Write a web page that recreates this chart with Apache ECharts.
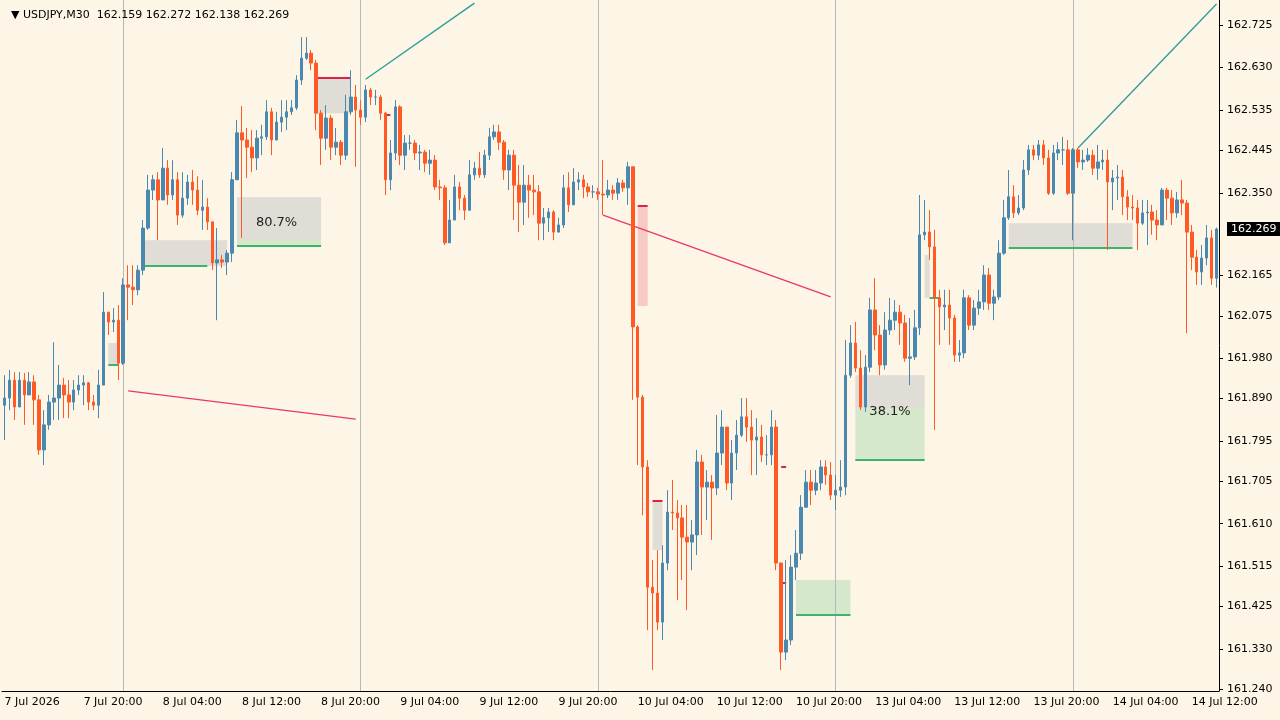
<!DOCTYPE html>
<html>
<head>
<meta charset="utf-8">
<script src="https://cdn.jsdelivr.net/npm/echarts@6/dist/echarts.min.js"></script>
<style>
    html, body {margin:0;padding:0;background:#fdf5e6;}
    #chart {width:1280px;height:720px;}
</style>
</head>
<body>
<div id="chart"></div>
<script>
    // USDJPY M30, 7 Jul 2026 12:00 .. 14 Jul 2026 14:30 (246 bars)
    var firstOpen = 161.875;
    var closes = [
        161.891,161.931,161.871,161.931,161.898,161.927,161.887,161.775,161.831,161.882,
        161.891,161.920,161.898,161.882,161.909,161.920,161.925,161.882,161.875,161.920,
        162.083,162.061,162.065,161.969,162.144,162.139,162.133,162.177,162.271,162.356,
        162.379,162.334,162.405,162.345,162.379,162.300,162.338,162.374,162.356,162.311,
        162.318,162.285,162.193,162.200,162.195,162.215,162.379,162.484,162.468,162.452,
        162.428,162.472,162.475,162.531,162.468,162.508,162.519,162.531,162.540,162.602,
        162.651,162.662,162.640,162.528,162.472,162.517,162.452,162.463,162.434,162.531,
        162.564,162.535,162.519,162.580,162.564,162.564,162.528,162.379,162.439,162.542,
        162.434,162.461,162.461,162.439,162.441,162.416,162.423,162.363,162.361,162.238,
        162.289,162.363,162.338,162.311,162.390,162.405,162.390,162.434,162.475,162.486,
        162.463,162.401,162.434,162.367,162.329,162.367,162.356,162.352,162.282,162.294,
        162.307,162.262,162.278,162.361,162.323,162.374,162.379,162.363,162.352,162.352,
        162.347,162.345,162.356,162.349,162.372,162.361,162.408,162.050,161.893,161.737,
        161.468,161.455,161.390,161.522,161.636,161.634,161.623,161.580,161.569,161.585,
        161.748,161.692,161.703,161.690,161.768,161.826,161.701,161.768,161.808,161.849,
        161.826,161.797,161.804,161.764,161.764,161.826,161.522,161.323,161.350,161.513,
        161.544,161.647,161.703,161.685,161.701,161.737,161.719,161.674,161.685,161.692,
        161.942,162.014,161.958,161.871,161.960,162.088,162.032,161.965,162.043,162.065,
        162.083,162.059,161.980,161.983,162.048,162.256,162.262,162.229,162.115,162.095,
        162.099,162.070,161.987,161.992,162.115,162.054,162.092,162.106,162.166,162.103,
        162.117,162.215,162.294,162.341,162.305,162.316,162.401,162.446,162.434,162.457,
        162.428,162.349,162.439,162.446,162.446,162.349,162.446,162.419,162.423,162.434,
        162.405,162.419,162.423,162.374,162.383,162.385,162.341,162.318,162.316,162.282,
        162.305,162.307,162.289,162.278,162.356,162.338,162.305,162.334,162.327,162.262,
        162.206,162.173,162.204,162.249,162.159,162.269
    ];
    var highs = [
        161.942,161.954,161.949,161.949,161.947,161.949,161.942,161.898,161.864,161.898,
        162.016,161.965,161.936,161.931,161.931,161.942,161.942,161.927,161.898,161.954,
        162.128,162.083,162.092,162.099,162.159,162.188,162.188,162.188,162.289,162.390,
        162.390,162.396,162.450,162.423,162.423,162.396,162.396,162.390,162.401,162.387,
        162.379,162.338,162.285,162.271,162.211,162.222,162.396,162.513,162.544,162.495,
        162.490,162.490,162.502,162.557,162.540,162.531,162.557,162.557,162.557,162.613,
        162.698,162.698,162.669,162.647,162.535,162.546,162.524,162.495,162.468,162.569,
        162.624,162.591,162.557,162.591,162.584,162.580,162.569,162.531,162.468,162.557,
        162.546,162.479,162.479,162.468,162.457,162.446,162.446,162.434,162.379,162.367,
        162.334,162.390,162.374,162.345,162.423,162.419,162.441,162.446,162.495,162.502,
        162.502,162.468,162.446,162.446,162.412,162.412,162.390,162.390,162.367,162.316,
        162.316,162.311,162.294,162.390,162.396,162.405,162.396,162.390,162.372,162.367,
        162.361,162.423,162.379,162.367,162.383,162.379,162.419,162.408,162.054,161.898,
        161.752,161.529,161.551,161.562,161.685,161.708,161.663,161.652,161.652,161.618,
        161.775,161.764,161.730,161.719,161.853,161.864,161.826,161.797,161.842,161.891,
        161.891,161.864,161.846,161.831,161.808,161.864,161.842,161.524,161.529,161.540,
        161.596,161.674,161.730,161.730,161.730,161.752,161.752,161.748,161.719,161.752,
        162.021,162.054,162.061,161.998,161.987,162.115,162.159,162.054,162.083,162.115,
        162.110,162.099,162.077,162.070,162.088,162.345,162.334,162.311,162.267,162.133,
        162.133,162.133,162.077,162.021,162.133,162.121,162.110,162.133,162.188,162.182,
        162.133,162.244,162.334,162.401,162.367,162.345,162.423,162.457,162.457,162.468,
        162.468,162.446,162.457,162.463,162.475,162.468,162.450,162.450,162.446,162.450,
        162.446,162.457,162.446,162.446,162.401,162.412,162.401,162.356,162.345,162.334,
        162.334,162.334,162.323,162.311,162.361,162.361,162.356,162.352,162.379,162.334,
        162.278,162.222,162.233,162.278,162.267,162.272
    ];
    var lows = [
        161.797,161.864,161.842,161.875,161.831,161.904,161.831,161.764,161.741,161.820,
        161.842,161.842,161.846,161.846,161.864,161.898,161.875,161.864,161.864,161.846,
        161.920,162.032,162.039,161.931,161.965,162.065,162.099,162.121,162.166,162.267,
        162.334,162.244,162.338,162.323,162.334,162.278,162.294,162.323,162.323,162.300,
        162.267,162.267,162.177,162.065,162.182,162.166,162.195,162.379,162.249,162.383,
        162.396,162.401,162.434,162.468,162.434,162.479,162.486,162.490,162.524,162.535,
        162.591,162.647,162.624,162.490,162.412,162.446,162.423,162.434,162.412,162.423,
        162.524,162.408,162.502,162.508,162.546,162.546,162.513,162.345,162.356,162.423,
        162.412,162.401,162.446,162.423,162.401,162.396,162.390,162.356,162.334,162.233,
        162.238,162.300,162.311,162.289,162.311,162.379,162.383,162.383,162.423,162.468,
        162.446,162.379,162.356,162.289,162.262,162.278,162.294,162.300,162.244,162.244,
        162.262,162.244,162.267,162.271,162.307,162.323,162.356,162.338,162.341,162.338,
        162.334,162.300,162.338,162.334,162.334,162.352,162.323,161.887,161.741,161.629,
        161.372,161.283,161.372,161.350,161.506,161.596,161.439,161.484,161.417,161.506,
        161.540,161.585,161.618,161.574,161.674,161.741,161.685,161.663,161.730,161.804,
        161.793,161.719,161.719,161.748,161.741,161.741,161.506,161.283,161.305,161.339,
        161.484,161.529,161.645,161.652,161.674,161.685,161.697,161.663,161.641,161.670,
        161.674,161.936,161.949,161.864,161.860,161.949,161.998,161.942,161.954,162.032,
        162.043,162.010,161.972,161.920,161.976,162.032,162.244,162.200,161.820,162.010,
        162.043,162.010,161.972,161.972,161.980,162.043,162.043,162.077,162.088,162.088,
        162.065,162.110,162.211,162.289,162.294,162.300,162.311,162.390,162.423,162.423,
        162.412,162.345,162.345,162.423,162.412,162.345,162.244,162.405,162.401,162.419,
        162.390,162.379,162.401,162.222,162.311,162.334,162.300,162.289,162.289,162.222,
        162.278,162.233,162.256,162.244,162.278,162.289,162.278,162.294,162.300,162.036,
        162.177,162.144,162.144,162.188,162.144,162.138
    ];
    var priceTicks = [162.725,162.630,162.535,162.445,162.350,162.165,162.075,161.980,
        161.890,161.795,161.705,161.610,161.515,161.425,161.330,161.240];
    var daySeparators = [24, 72, 120, 168, 216];
    var lastPrice = 162.269;

    // bar times: Tue 7 Jul 12:00 .. Fri 10 Jul 23:30, Mon 13 Jul 00:00 ..
    var months = ['Jan','Feb','Mar','Apr','May','Jun','Jul','Aug','Sep','Oct','Nov','Dec'];
    var cats = [];
    var t = Date.UTC(2026, 6, 7, 12, 0);
    for (var i = 0; i < closes.length; i++) {
        var d = new Date(t);
        var hh = ('0' + d.getUTCHours()).slice(-2) + ':' + ('0' + d.getUTCMinutes()).slice(-2);
        cats.push(i === 0 ? d.getUTCDate() + ' ' + months[d.getUTCMonth()] + ' 2026'
            : d.getUTCDate() + ' ' + months[d.getUTCMonth()] + ' ' + hh);
        t += 30 * 60000;
        if (new Date(t).getUTCDay() === 6) t += 2 * 24 * 3600000;
    }

    var ohlc = [];
    for (var i = 0; i < closes.length; i++) {
        var o = i === 0 ? firstOpen : closes[i - 1];
        ohlc.push([o, closes[i], lows[i], highs[i]]);
    }

    var GRAY = 'rgba(200,200,200,0.55)', LGREEN = 'rgba(180,220,180,0.55)', PINK = 'rgba(240,150,160,0.45)';
    var boxes = [
        [21, 23, 162.014, 161.965, GRAY],
        [28, 45, 162.244, 162.186, GRAY],
        [47, 64, 162.340, 162.244, GRAY],
        [47, 64, 162.244, 162.231, LGREEN],
        [63, 70, 162.607, 162.528, GRAY],
        [128, 130, 162.320, 162.097, PINK],
        [131, 133, 161.661, 161.551, GRAY],
        [160, 171, 161.484, 161.406, LGREEN],
        [172, 186, 161.942, 161.868, GRAY],
        [172, 186, 161.868, 161.752, LGREEN],
        [186, 187, 162.211, 162.115, GRAY],
        [203, 228, 162.282, 162.226, GRAY]
    ];
    var levels = [
        [21, 23, 161.965, '#3cb46e'],
        [28, 41, 162.186, '#3cb46e'],
        [47, 64, 162.231, '#3cb46e'],
        [63, 70, 162.607, '#e0204a'],
        [77, 78, 162.524, '#e0204a'],
        [128, 130, 162.320, '#e0204a'],
        [131, 133, 161.661, '#e0204a'],
        [157, 158, 161.737, '#e0204a'],
        [157, 158, 161.477, '#e0204a'],
        [160, 171, 161.406, '#3cb46e'],
        [172, 186, 161.752, '#3cb46e'],
        [187, 189, 162.115, '#3cb46e'],
        [203, 228, 162.226, '#3cb46e']
    ];
    var trendLines = [
        [73, 162.604, 95, 162.774, '#2a9d9a'],
        [217, 162.450, 245, 162.772, '#2a9d9a'],
        [25, 161.907, 71, 161.844, '#e8386a'],
        [121, 162.300, 167, 162.117, '#e8386a'],
        [170, 161.484, 192, 161.234, '#e8386a']
    ];
    var percentLabels = [[55, 162.283, '80.7%'], [179, 161.860, '38.1%']];

    var markLineData = [];
    daySeparators.forEach(function (x) {
        markLineData.push({xAxis: x, lineStyle: {color: '#b8b8b8', width: 1, type: 'solid'}, label: {show: false}});
    });
    levels.forEach(function (l) {
        markLineData.push([{coord: [l[0], l[2]], lineStyle: {color: l[3], width: 2, type: 'solid'}, label: {show: false}},
            {coord: [l[1], l[2]]}]);
    });
    trendLines.forEach(function (l) {
        markLineData.push([{coord: [l[0], l[1]], lineStyle: {color: l[4], width: 1.3, type: 'solid'}, label: {show: false}},
            {coord: [l[2], l[3]]}]);
    });

    var axisValues = priceTicks.concat([lastPrice]);

    var chart = echarts.init(document.getElementById('chart'));
    chart.setOption({
        backgroundColor: '#fdf5e6',
        animation: false,
        title: {
            text: '▼ USDJPY,M30  162.159 162.272 162.138 162.269',
            left: 6, top: 5,
            textStyle: {fontSize: 11, fontWeight: 'normal', color: '#000', fontFamily: 'DejaVu Sans'}
        },
        grid: {left: 2, right: 61, top: 0, bottom: 29, outerBoundsMode: 'none', containLabel: false},
        xAxis: {
            type: 'category', data: cats, boundaryGap: true,
            axisLine: {lineStyle: {color: '#000'}},
            axisTick: {interval: function (i) { return i % 16 === 0; }, length: 4, lineStyle: {color: '#000'}},
            axisLabel: {interval: function (i) { return i % 16 === 0; }, align: 'left', color: '#000',
                fontSize: 11, fontFamily: 'DejaVu Sans', margin: 6},
            splitLine: {show: false}
        },
        yAxis: {
            type: 'value', position: 'right', min: 161.236, max: 162.781, scale: true,
            axisLine: {show: true, lineStyle: {color: '#000'}},
            axisTick: {show: true, customValues: priceTicks, length: 4, lineStyle: {color: '#000'}},
            axisLabel: {customValues: axisValues, color: '#000', fontSize: 11, fontFamily: 'DejaVu Sans',
                hideOverlap: false,
                formatter: function (v) {
                    return Math.abs(v - lastPrice) < 1e-6 ? '{last|' + v.toFixed(3) + '}' : v.toFixed(3);
                },
                rich: {last: {color: '#fff', backgroundColor: '#000', padding: [2, 4, 1, 4],
                    fontSize: 11, fontFamily: 'DejaVu Sans'}}},
            splitLine: {show: false}
        },
        series: [{
            type: 'candlestick', data: ohlc, barWidth: 3,
            itemStyle: {color: '#4a88b0', color0: '#ff5a26', borderColor: '#4a88b0', borderColor0: '#ff5a26', borderWidth: 1},
            markArea: {silent: true, data: boxes.map(function (b) {
                return [{coord: [b[0], b[2]], itemStyle: {color: b[4]}}, {coord: [b[1], b[3]]}];
            })},
            markLine: {silent: true, symbol: 'none', animation: false, data: markLineData},
            markPoint: {silent: true, symbol: 'circle', symbolSize: 0, data: percentLabels.map(function (p) {
                return {coord: [p[0], p[1]], label: {show: true, formatter: p[2], color: '#222', fontSize: 13, fontFamily: 'DejaVu Sans'}};
            })},
            z: 5
        }]
    });
</script>
</body>
</html>
